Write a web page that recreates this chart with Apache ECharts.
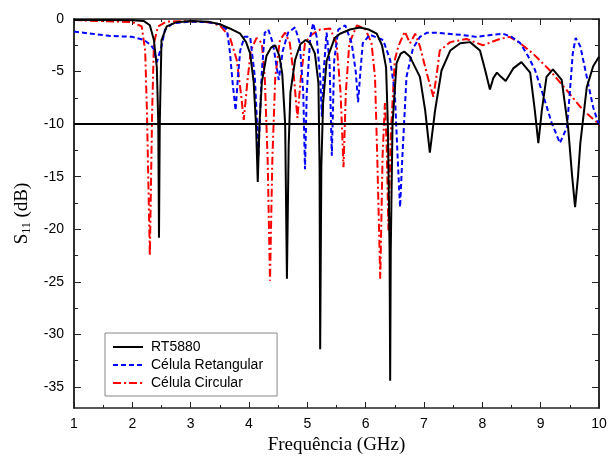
<!DOCTYPE html>
<html><head><meta charset="utf-8">
<script src="https://cdn.jsdelivr.net/npm/echarts@6/dist/echarts.min.js"></script>
<style>html,body{margin:0;padding:0;background:#fff}#c{width:608px;height:456px}</style>
</head><body><div id="c"></div>
<script>
const rtFreq=[1.0,1.5,2.0,2.2,2.3,2.37,2.42,2.445,2.457,2.47,2.5,2.59,2.76,3.0,3.3,3.5,3.67,3.85,3.95,4.02,4.08,4.12,4.15,4.18,4.22,4.3,4.38,4.45,4.52,4.57,4.62,4.65,4.68,4.71,4.79,4.88,4.97,5.05,5.13,5.19,5.21,5.22,5.24,5.27,5.33,5.39,5.47,5.56,5.73,5.9,6.05,6.19,6.28,6.35,6.38,6.41,6.42,6.43,6.46,6.53,6.6,6.66,6.76,6.93,7.02,7.1,7.19,7.3,7.45,7.62,7.79,7.96,8.05,8.13,8.19,8.25,8.32,8.4,8.53,8.67,8.82,8.9,8.96,9.02,9.1,9.21,9.36,9.47,9.54,9.59,9.64,9.68,9.79,9.9,10.0];
const rtS11=[-0.1,-0.1,-0.12,-0.2,-0.6,-2.0,-4.6,-10,-20.8,-10,-2.0,-0.7,-0.3,-0.2,-0.25,-0.5,-0.9,-1.4,-2.2,-3.3,-6.0,-10,-15.5,-10,-6.0,-3.5,-2.7,-2.5,-3.5,-5.2,-10,-24.7,-12,-7,-3.9,-2.4,-2.0,-2.3,-3.3,-6.1,-14,-31.4,-14,-8.0,-4.0,-3.0,-1.8,-1.4,-1.0,-0.8,-1.0,-1.4,-2.5,-4.6,-10,-22,-34.4,-22,-10,-4.2,-3.3,-3.1,-3.6,-5.5,-8.7,-12.7,-8.7,-4.9,-3.0,-2.3,-2.2,-3.0,-4.9,-6.7,-5.6,-5.1,-5.5,-5.9,-4.7,-4.1,-5.1,-8.7,-11.8,-8.7,-5.5,-4.8,-5.8,-10.3,-15,-17.9,-15,-11.8,-6.5,-4.5,-3.6];

const retFreq=[1.0,1.3,1.6,2.0,2.2,2.32,2.37,2.42,2.5,2.56,2.7,3.0,3.3,3.5,3.62,3.67,3.72,3.77,3.81,3.85,3.92,4.02,4.1,4.13,4.16,4.19,4.22,4.27,4.33,4.41,4.51,4.58,4.67,4.79,4.87,4.93,4.96,4.99,5.05,5.1,5.16,5.22,5.25,5.28,5.33,5.38,5.42,5.46,5.53,5.65,5.76,5.83,5.87,5.91,5.95,6.07,6.3,6.42,6.5,6.55,6.59,6.63,6.7,6.81,6.93,7.05,7.2,7.62,7.9,8.18,8.35,8.5,8.65,8.78,8.9,9.04,9.19,9.33,9.45,9.5,9.55,9.6,9.68,9.79,9.9,10.0];
const retS11=[-1.2,-1.4,-1.6,-1.7,-2.0,-2.5,-2.9,-4.1,-2.6,-1.0,-0.4,-0.25,-0.3,-0.5,-1.0,-3.0,-6.1,-8.7,-5.5,-3.0,-1.7,-1.7,-5.5,-9,-13.1,-9,-5.0,-1.3,-1.0,-2.3,-5.8,-3.0,-1.3,-0.8,-2.3,-7.0,-14.3,-7.0,-1.7,-0.4,-1.7,-5.5,-9.3,-5.0,-1.3,-4.0,-13.0,-4.0,-1.0,-0.6,-2.3,-5.0,-7.9,-5.0,-2.3,-1.5,-2.0,-3.9,-7.0,-13.4,-17.9,-13,-5.5,-2.8,-1.7,-1.3,-1.3,-1.5,-1.7,-1.5,-1.4,-1.7,-2.3,-3.5,-4.8,-7.2,-9.9,-11.8,-10.3,-7.0,-3.3,-1.8,-2.6,-5.5,-8.4,-10.1];

const circFreq=[1.0,1.5,2.0,2.16,2.22,2.25,2.3,2.34,2.37,2.44,2.59,3.0,3.3,3.5,3.67,3.79,3.86,3.91,3.97,4.03,4.13,4.22,4.27,4.32,4.36,4.4,4.45,4.53,4.62,4.7,4.77,4.83,4.89,4.96,5.07,5.22,5.39,5.5,5.57,5.62,5.66,5.72,5.85,5.99,6.1,6.16,6.2,6.25,6.29,6.33,6.36,6.39,6.43,6.5,6.56,6.67,6.76,6.85,6.93,7.05,7.16,7.22,7.27,7.45,7.73,8.01,8.3,8.47,8.65,8.87,9.16,9.45,9.73,9.96,10.0];
const circS11=[-0.1,-0.2,-0.3,-0.7,-3.0,-8.7,-22.5,-8.7,-2.3,-0.7,-0.25,-0.2,-0.3,-0.6,-1.7,-3.9,-7.0,-9.6,-6.1,-3.0,-1.8,-2.3,-5.5,-13.4,-24.9,-13.4,-5.5,-2.0,-1.3,-2.3,-5.5,-9.4,-5.5,-2.3,-1.5,-1.0,-0.9,-2.3,-7.0,-14.1,-7.0,-2.3,-0.6,-0.9,-2.3,-5.5,-13.4,-24.7,-13,-8.0,-12,-20.1,-11,-3.9,-2.6,-1.2,-2.3,-1.4,-2.6,-5.2,-7.4,-5.2,-3.0,-2.2,-1.9,-2.5,-1.9,-1.7,-2.3,-3.3,-4.9,-6.8,-8.7,-9.8,-10.1];

const seriesNames=['RT5880','Célula Retangular','Célula Circular'];
const yMajorTicks=[0,-5,-10,-15,-20,-25,-30,-35];
const yMinorTicks=[-2.5,-7.5,-12.5,-17.5,-22.5,-27.5,-32.5];
const refLevel=-10;

function pairs(f,v){return f.map((x,i)=>[x,v[i]]);}
const chart=echarts.init(document.getElementById('c'),null,{renderer:'canvas'});
const labelFont={fontFamily:'Liberation Sans',fontSize:14,color:'#000'};
const axisLine={show:true,onZero:false,lineStyle:{color:'#222',width:1.5}};
function yAx(pos,vals,len,withLabels){
  return {type:'value',position:pos,min:-37,max:0,axisLine:axisLine,
    axisTick:{show:true,inside:true,length:len,customValues:vals,lineStyle:{color:'#222',width:1}},
    axisLabel:withLabels?Object.assign({show:true,customValues:yMajorTicks,margin:10},labelFont):{show:false},
    splitLine:{show:false}};
}
const y0=yAx('left',yMajorTicks,7,true);
y0.name='{a|S}{b|11}{a| (dB)}';
y0.nameLocation='middle';
y0.nameGap=40;
y0.nameRotate=90;
y0.nameTextStyle={fontFamily:'Liberation Serif',fontSize:19,color:'#000',
  rich:{a:{fontFamily:'Liberation Serif',fontSize:19,color:'#000'},
        b:{fontFamily:'Liberation Serif',fontSize:12,color:'#000',verticalAlign:'bottom',padding:[10,0,0,0]}}};
function xAx(pos,withLabels){
  return {type:'value',position:pos,min:1,max:10,interval:1,axisLine:axisLine,
    axisTick:{show:true,inside:true,length:6,lineStyle:{color:'#222',width:1}},
    minorTick:{show:true,splitNumber:2,length:3,lineStyle:{color:'#222',width:1}},
    axisLabel:withLabels?Object.assign({show:true,margin:9},labelFont):{show:false},
    splitLine:{show:false},minorSplitLine:{show:false}};
}
const x0=xAx('bottom',true);
x0.name='Frequência (GHz)';
x0.nameLocation='middle';
x0.nameGap=27;
x0.nameTextStyle={fontFamily:'Liberation Serif',fontSize:19,color:'#000'};

chart.setOption({
  animation:false,
  backgroundColor:'#fff',
  grid:{left:74,right:9,top:19,bottom:48,containLabel:false,outerBoundsMode:'none'},
  legend:{data:seriesNames,orient:'vertical',left:105,top:333,itemWidth:30,itemHeight:14,itemGap:4,
    padding:[7,14,6,7],borderColor:'#888',borderWidth:1,backgroundColor:'#fff',
    itemStyle:{opacity:0},
    textStyle:{fontFamily:'Liberation Sans',fontSize:14,color:'#000',padding:[0,0,0,3]}},
  xAxis:[x0,xAx('top',false)],
  yAxis:[y0,yAx('left',yMinorTicks,4,false),yAx('right',yMajorTicks,7,false),yAx('right',yMinorTicks,4,false)],
  series:[
    {name:seriesNames[2],type:'line',data:pairs(circFreq,circS11),symbol:'none',showSymbol:false,
      lineStyle:{color:'#ff0000',width:2,type:[8,3,2,3]},itemStyle:{color:'#ff0000'},z:2},
    {name:seriesNames[1],type:'line',data:pairs(retFreq,retS11),symbol:'none',showSymbol:false,
      lineStyle:{color:'#0000ff',width:2,type:[5,3]},itemStyle:{color:'#0000ff'},z:3},
    {name:seriesNames[0],type:'line',data:pairs(rtFreq,rtS11),symbol:'none',showSymbol:false,
      lineStyle:{color:'#000',width:2},itemStyle:{color:'#000'},z:4,
      markLine:{silent:true,symbol:'none',label:{show:false},animation:false,
        lineStyle:{color:'#000',width:2,type:'solid'},data:[{yAxis:refLevel}]}}
  ]
});
</script></body></html>
